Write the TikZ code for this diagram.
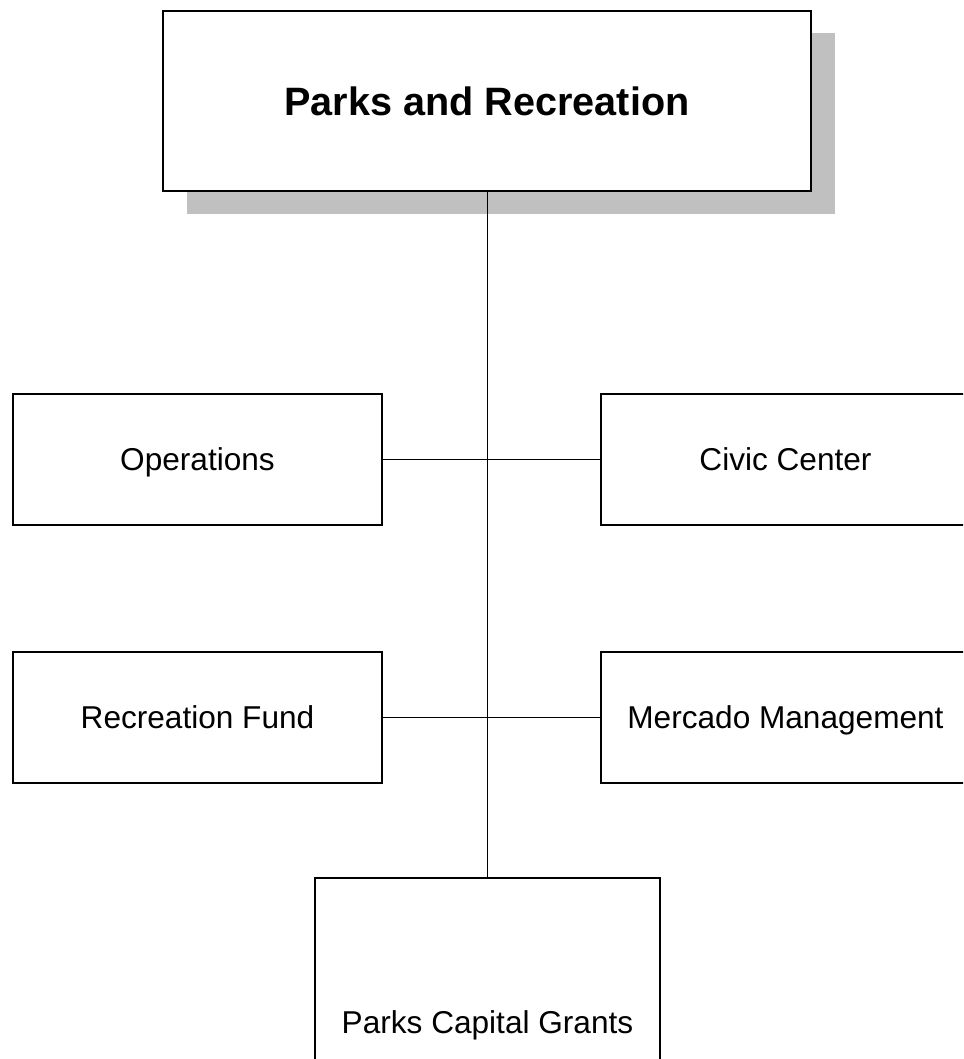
\documentclass[tikz,border=0pt]{standalone}
\usepackage{fontspec}
\setmainfont{Liberation Sans}
\begin{document}
\begin{tikzpicture}[x=1pt,y=-1pt,
  unitbox/.style={draw=black,line width=1.3pt,fill=white,rectangle,inner sep=0pt,
    text height=22.6pt,text depth=0pt,
    minimum width=369pt,minimum height=131pt,font=\fontsize{31.6}{38}\selectfont},
  conn/.style={draw=black,line width=0.9pt}]
\useasboundingbox (0,0) rectangle (963,1059);
\clip (0,0) rectangle (963,1059);
% shadow
\fill[fill={rgb,255:red,192;green,192;blue,192}] (187,33) rectangle (835,214);
\node[unitbox,minimum width=648pt,minimum height=180pt,line width=1.5pt,
  text height=28.4pt,
  font=\fontsize{39.6}{46}\selectfont\bfseries] (top) at (487,101) {Parks and Recreation};
\node[unitbox] (ops) at (197.5,459.5) {Operations};
\node[unitbox] (civ) at (785.5,459.5) {Civic Center};
\node[unitbox] (rec) at (197.5,717.5) {Recreation Fund};
\node[unitbox] (mer) at (785.5,717.5) {Mercado Management};
\node[unitbox,minimum width=345pt,minimum height=288pt] (pcg) at (487.5,1022) {Parks Capital Grants};
\draw[conn] (top.south -| pcg.north) -- (pcg.north);
\draw[conn] (ops.east) -- (civ.west);
\draw[conn] (rec.east) -- (mer.west);
\end{tikzpicture}
\end{document}
